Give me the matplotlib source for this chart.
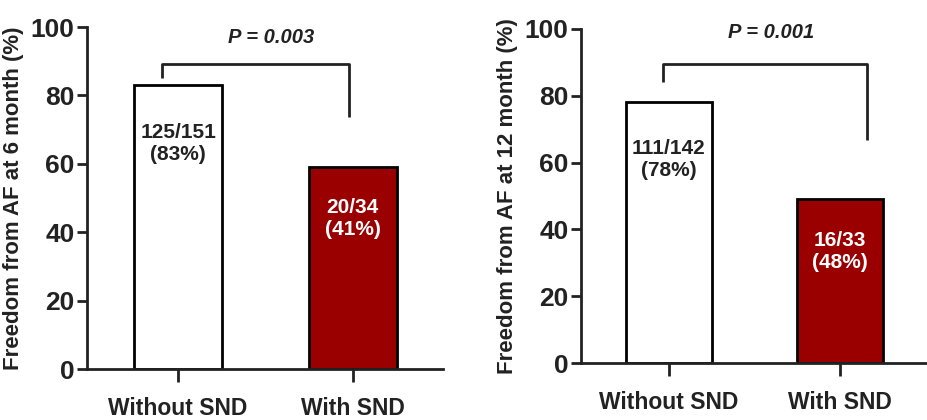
import matplotlib.pyplot as plt

plt.rcParams['font.family'] = ['Liberation Sans', 'DejaVu Sans']
plt.rcParams['font.weight'] = 'bold'

groups = ['Without SND', 'With SND']
pct_6m = [83, 59]
pct_12m = [78, 49]
labels_6m = ['125/151\n(83%)', '20/34\n(41%)']
labels_12m = ['111/142\n(78%)', '16/33\n(48%)']
ylabel_6m = 'Freedom from AF at 6 month (%)'
ylabel_12m = 'Freedom from AF at 12 month (%)'
p_6m = 'P = 0.003'
p_12m = 'P = 0.001'

colors = ['white', '#9a0000']
text_colors = ['#222222', 'white']

fig = plt.figure(figsize=(9.28, 4.2), dpi=100)
ax1 = fig.add_axes([0.094, 0.1214, 0.383, 0.8143])
ax2 = fig.add_axes([0.626, 0.1357, 0.374, 0.7953])


def draw(ax, vals, labs, ylabel, ptxt, txt_y, brk, p_pos, xlim):
    x = [0, 1]
    ax.bar(x, vals, width=0.5, color=colors, edgecolor='black', linewidth=2)
    for i in range(2):
        ax.text(x[i], txt_y[i], labs[i], ha='center', va='center',
                fontsize=15, color=text_colors[i], fontweight='bold',
                linespacing=1.2)
    # bracket
    lx, rx, top, lbot, rbot = brk
    ax.plot([lx, lx, rx, rx], [lbot, top, top, rbot], color='#222222', lw=2,
            solid_capstyle='butt', clip_on=False)
    ax.text(p_pos[0], p_pos[1], ptxt, ha='center', va='center', fontsize=14.5,
            fontstyle='italic', fontweight='bold', color='#222222')
    ax.set_ylim(0, 100)
    ax.set_xlim(*xlim)
    ax.set_yticks([0, 20, 40, 60, 80, 100])
    ax.set_xticks(x)
    ax.set_xticklabels(groups)
    ax.set_ylabel(ylabel, fontsize=16, fontweight='bold', color='#222222',
                  labelpad=5)
    for s in ['top', 'right']:
        ax.spines[s].set_visible(False)
    for s in ['left', 'bottom']:
        ax.spines[s].set_linewidth(2)
        ax.spines[s].set_color('#222222')
    ax.tick_params(axis='y', labelsize=19, width=2, length=7, pad=2,
                   colors='#222222')
    ax.tick_params(axis='x', labelsize=16.5, width=2, length=9, pad=11,
                   colors='#222222')


draw(ax1, pct_6m, labels_6m, ylabel_6m, p_6m, [66, 44],
     (-0.09, 0.98, 89.2, 85, 73.7), (0.53, 97), (-0.52, 1.514))
draw(ax2, pct_12m, labels_12m, ylabel_12m, p_12m, [61, 33.5],
     (-0.035, 1.16, 89.5, 84, 66.8), (0.60, 99), (-0.515, 1.515))

fig.savefig('out.png', dpi=100)
